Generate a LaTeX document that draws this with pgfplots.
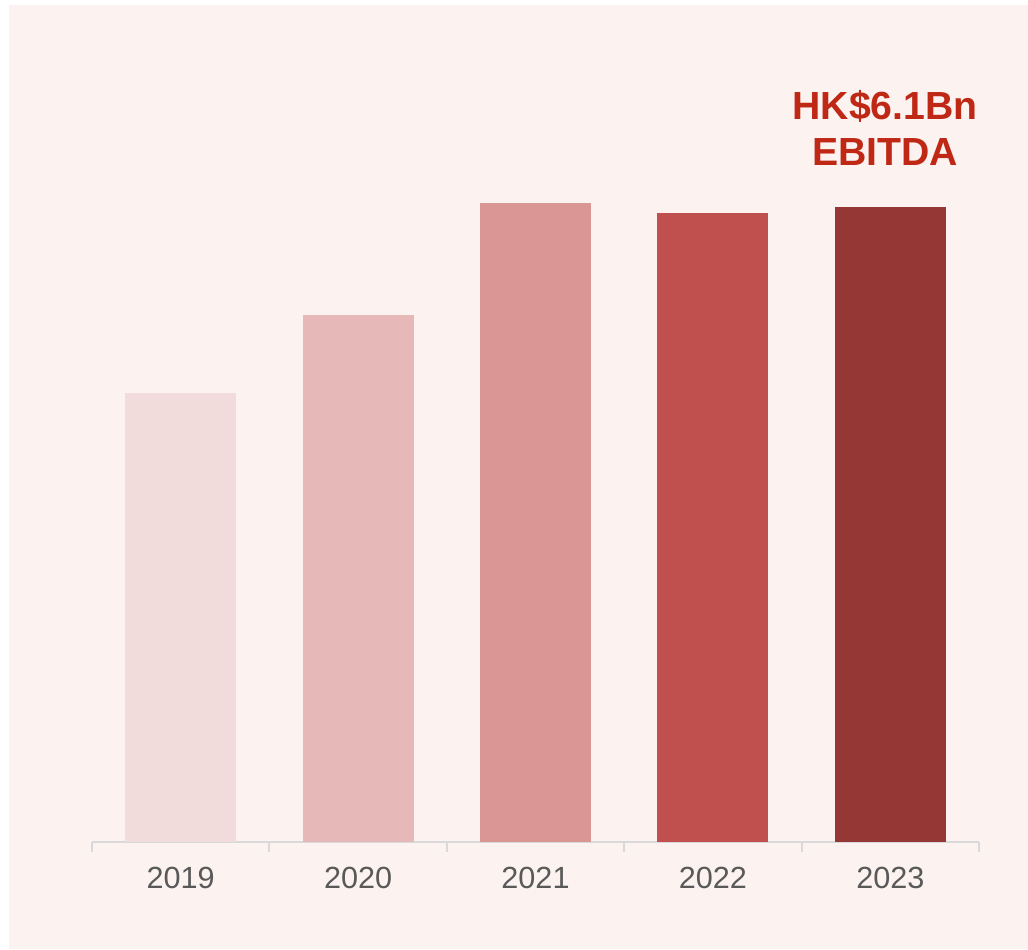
\documentclass[border=0pt]{standalone}
\usepackage{pgfplots}
\pgfplotsset{compat=1.18}
\usepackage{fontspec}
\setmainfont{Liberation Sans}

\definecolor{panel}{RGB}{252,242,240}
\definecolor{c19}{RGB}{242,220,219}
\definecolor{c20}{RGB}{230,185,184}
\definecolor{c21}{RGB}{218,150,148}
\definecolor{c22}{RGB}{192,80,77}
\definecolor{c23}{RGB}{149,55,53}
\definecolor{headline}{RGB}{192,40,22}
\definecolor{labelgrey}{RGB}{89,89,89}
\definecolor{axisgrey}{RGB}{217,217,217}

\begin{document}
\begin{tikzpicture}
% page 1028x949 px at 0.5pt per px
\fill[white] (0,0) rectangle (514pt,474.5pt);
\fill[panel] (4.5pt,0) rectangle (514pt,472pt);

\begin{axis}[
    at={(46pt,53.5pt)}, anchor=origin,
    scale only axis,
    width=443.5pt, height=416.4pt,
    xmin=0.5, xmax=5.5,
    ymin=0, ymax=8,
    axis x line*=bottom,
    axis y line=none,
    axis line style={draw=axisgrey, line width=1pt, -},
    ybar, bar width=55.5pt, bar shift=0pt,
    xtick={1,2,3,4,5},
    xticklabels={2019,2020,2021,2022,2023},
    major x tick style={draw=none},
    minor xtick={0.5,1.5,2.5,3.5,4.5,5.5},
    minor tick style={draw=axisgrey, line width=1pt},
    minor tick length=5pt,
    tick align=outside,
    x tick label style={font=\fontsize{15.3}{18}\selectfont, text=labelgrey, yshift=-5pt},
    clip=false,
]
\addplot[fill=c19, draw=none] coordinates {(1,4.31)};
\addplot[fill=c20, draw=none] coordinates {(2,5.06)};
\addplot[fill=c21, draw=none] coordinates {(3,6.14)};
\addplot[fill=c22, draw=none] coordinates {(4,6.04)};
\addplot[fill=c23, draw=none] coordinates {(5,6.10)};

\node[font=\bfseries\fontsize{19.6}{23}\selectfont, text=headline, align=center]
    at (axis cs:4.97,6.86) {HK\$6.1Bn\\EBITDA};
\end{axis}
\end{tikzpicture}
\end{document}
